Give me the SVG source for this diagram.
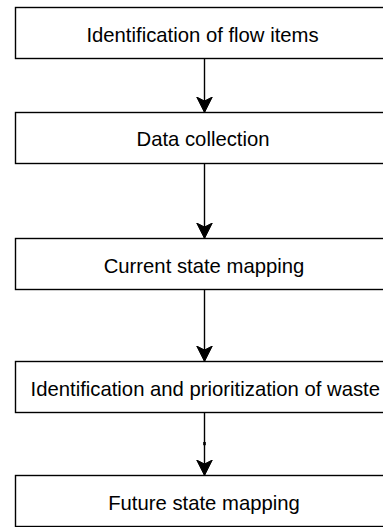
<svg xmlns="http://www.w3.org/2000/svg" width="383" height="527" viewBox="0 0 383 527">
  <style>
    .box { fill: #ffffff; stroke: #000000; stroke-width: 1.4; }
    .lbl { font-family: "Liberation Sans", Arial, Helvetica, sans-serif; font-size: 20.3px; fill: #000000; text-anchor: middle; }
    .edge { fill: none; stroke: #000000; stroke-width: 1.4; marker-end: url(#arrow); }
  </style>
  <defs>
    <marker id="arrow" markerUnits="userSpaceOnUse" markerWidth="18" markerHeight="18" viewBox="-16 -9 18 18" refX="0" refY="0" orient="auto">
      <path d="M0,0 L-15.5,-7.8 L-11.5,0 L-15.5,7.8 Z" fill="#000000" stroke="#000000" stroke-width="1"/>
    </marker>
  </defs>
  <rect width="383" height="527" fill="#ffffff"/>

  <g id="connectors">
    <path class="edge" d="M204.5,58.5 L204.5,112.5"/>
    <path class="edge" d="M204.5,163.5 L204.5,238.5"/>
    <path class="edge" d="M204.5,289.5 L204.5,361.5"/>
    <path class="edge" d="M204.5,412.5 L204.5,475.5"/>
    <rect x="203.2" y="442" width="2.6" height="3.2" fill="#000000"/>
  </g>

  <g id="node-flow-items">
    <rect class="box" x="15.5" y="7.5" width="379" height="51"/>
    <text class="lbl" x="202.5" y="41.7">Identification of flow items</text>
  </g>
  <g id="node-data-collection">
    <rect class="box" x="15.5" y="112.5" width="379" height="51"/>
    <text class="lbl" x="203" y="146">Data collection</text>
  </g>
  <g id="node-current-state">
    <rect class="box" x="15.5" y="238.5" width="379" height="51"/>
    <text class="lbl" x="204" y="273.3">Current state mapping</text>
  </g>
  <g id="node-waste">
    <rect class="box" x="15.5" y="361.5" width="379" height="51"/>
    <text class="lbl" x="205.3" y="395.7">Identification and prioritization of waste</text>
  </g>
  <g id="node-future-state">
    <rect class="box" x="15.5" y="475.5" width="379" height="51"/>
    <text class="lbl" x="204" y="510">Future state mapping</text>
  </g>
</svg>
